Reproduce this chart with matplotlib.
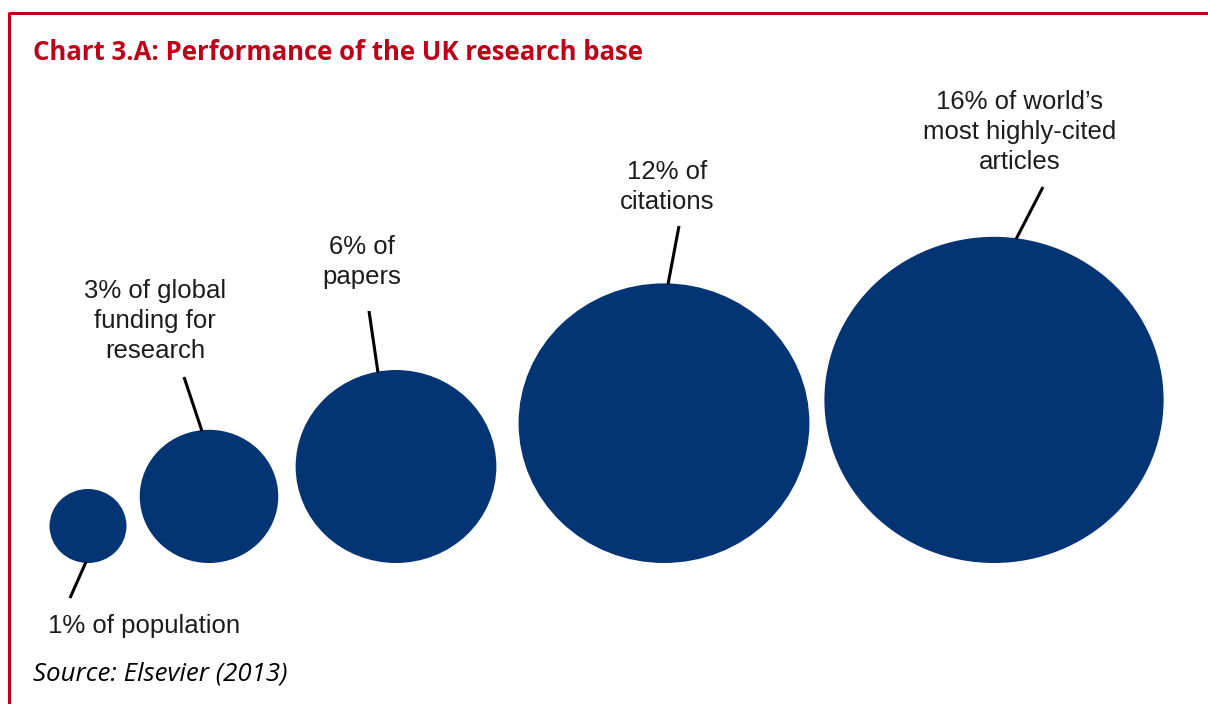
import matplotlib
matplotlib.use("Agg")
import matplotlib.pyplot as plt
from matplotlib.patches import Ellipse
from matplotlib.lines import Line2D

# data
shares = [1, 3, 6, 12, 16]  # % of world total
labels = [
    "1% of population",
    "3% of global\nfunding for\nresearch",
    "6% of\npapers",
    "12% of\ncitations",
    "16% of world\u2019s\nmost highly-cited\narticles",
]

# layout (pixel coords, y downwards)
centers_x = [88, 209, 396, 664, 994]
base_y = 563
label_pos = [(144, 626), (155, 321), (362, 262), (667, 187), (1020, 132)]
leader_end = [(70, 598), (184, 377), (369, 311), (679, 226), (1043, 187)]
leader_dx = [-2, -7, -18, 4, 22]   # offset of leader start from top centre

navy = "#033473"
red = "#C00018"
text_col = "#1c1c1c"

fig = plt.figure(figsize=(12.08, 7.04), dpi=100)
ax = fig.add_axes([0, 0, 1, 1])
ax.set_xlim(0, 1208)
ax.set_ylim(704, 0)
ax.axis("off")

# red frame (top + left)
ax.add_line(Line2D([9, 1208], [12.5, 12.5], color=red, lw=2.2, solid_capstyle="butt"))
ax.add_line(Line2D([9, 9], [12, 704], color=red, lw=2.2, solid_capstyle="butt"))

ax.text(33, 52, "Chart 3.A: Performance of the UK research base", color=red,
        fontsize=18.5, fontweight="bold", family="Open Sans", va="center", ha="left")
ax.text(33, 674, "Source: Elsevier (2013)", color="black", fontsize=18.6,
        style="italic", family="Open Sans", va="center", ha="left")

for i, v in enumerate(shares):
    ry = 37 * v ** 0.535
    rx = ry * 1.04
    cx, cy = centers_x[i], base_y - ry
    ax.add_patch(Ellipse((cx, cy), 2 * rx, 2 * ry, color=navy, lw=0))

    dx = leader_dx[i]
    if i == 0:
        sy = cy + ry * (1 - (dx / rx) ** 2) ** 0.5 - 1
    else:
        sy = cy - ry * (1 - (dx / rx) ** 2) ** 0.5 + 1
    ex, ey = leader_end[i]
    ax.plot([cx + dx, ex], [sy, ey], color="black", lw=2.2, solid_capstyle="butt")

    lx, ly = label_pos[i]
    ax.text(lx, ly, labels[i], ha="center", va="center", multialignment="center",
            fontsize=18.5, family="Liberation Sans", color=text_col, linespacing=1.33)

fig.savefig("out.png", dpi=100)
